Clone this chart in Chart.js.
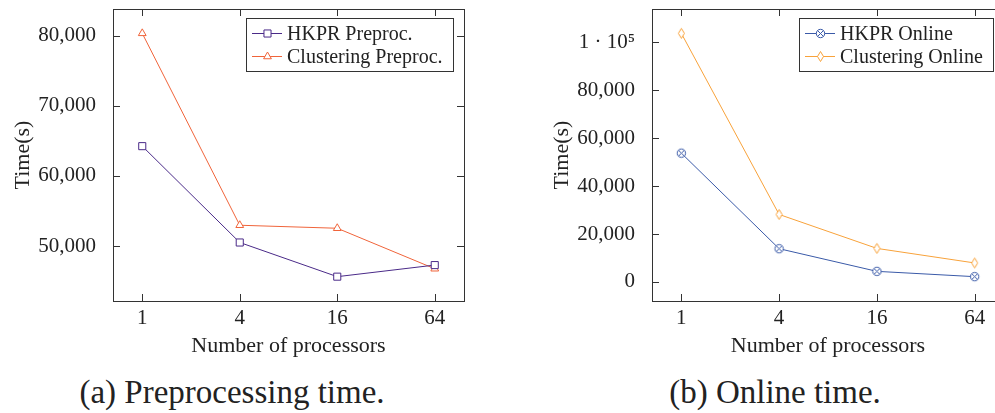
<!DOCTYPE html>
<html lang="en">
<head>
<meta charset="UTF-8">
<title>Preprocessing and online time</title>
<script src="https://cdn.jsdelivr.net/npm/chart.js"></script>
<style>
  html, body { margin: 0; padding: 0; background: #fff; overflow: hidden; }
  body { width: 995px; height: 413px; position: relative; }
  canvas { position: absolute; top: 0; }
  #graficoA { left: 0; }
  #graficoB { left: 520px; }
  .legenda {
    position: absolute; top: 374px;
    font-family: "Liberation Serif", serif; font-size: 33px; line-height: 36px;
    color: #222; white-space: nowrap; transform: translateX(-50%);
  }
</style>
</head>
<body>
<canvas id="graficoA" width="480" height="360"></canvas>
<canvas id="graficoB" width="500" height="360"></canvas>
<div class="legenda" style="left:232px">(a) Preprocessing time.</div>
<div class="legenda" style="left:775px">(b) Online time.</div>
<script>
// dados
const processadores = [1, 4, 16, 64];
const hkprPreproc = [64250, 50520, 45650, 47300];
const clusterPreproc = [80330, 52980, 52550, 46780];
const hkprOnline = [53750, 13870, 4420, 2200];
const clusterOnline = [103750, 28170, 14000, 7920];

const ticksPreproc = [50000, 60000, 70000, 80000];
const rotulosPreproc = ['50,000', '60,000', '70,000', '80,000'];
const ticksOnline = [0, 20000, 40000, 60000, 80000, 100000];
const rotulosOnline = ['0', '20,000', '40,000', '60,000', '80,000', '1 \u00b7 10\u2075'];

const corTexto = '#222';
const corMoldura = '#333';

Chart.defaults.font.family = "'Liberation Serif', serif";
Chart.defaults.color = corTexto;

// limites com 10% de folga (como o pgfplots)
function limites(series) {
    let todos = [].concat(...series);
    let lo = Math.min(...todos), hi = Math.max(...todos);
    let d = (hi - lo) * 0.1;
    return [lo - d, hi + d];
}

// marcadores que o Chart.js não tem
function marcador(cor, tipo) {
    let c = document.createElement('canvas');
    c.width = 13; c.height = 13;
    let g = c.getContext('2d');
    g.strokeStyle = cor;
    g.lineWidth = 1;
    g.fillStyle = '#fff';
    if (tipo == 'otimes') {
        g.beginPath();
        g.arc(6.5, 6.5, 4.2, 0, Math.PI * 2);
        g.fill();
        g.stroke();
        g.beginPath();
        g.moveTo(3.5, 3.5); g.lineTo(9.5, 9.5);
        g.moveTo(9.5, 3.5); g.lineTo(3.5, 9.5);
        g.stroke();
    } else {
        g.beginPath();
        g.moveTo(6.5, 1.5); g.lineTo(9.5, 6.5); g.lineTo(6.5, 11.5); g.lineTo(3.5, 6.5);
        g.closePath();
        g.fill();
        g.stroke();
    }
    return c;
}

function serie(rotulo, valores, cor, estilo, raio) {
    return {
        label: rotulo,
        data: valores.map((v, i) => ({ x: Math.log2(processadores[i]), y: v })),
        borderColor: cor,
        backgroundColor: '#fff',
        borderWidth: 1,
        pointStyle: estilo,
        pointRadius: raio,
        pointBorderWidth: 1,
        pointBorderColor: cor,
        pointBackgroundColor: '#fff',
        tension: 0
    };
}

// moldura, ticks internos e legenda dentro da área
const moldura = {
    id: 'moldura',
    afterDraw(chart) {
        const ctx = chart.ctx;
        const a = chart.chartArea;
        const x = chart.scales.x, y = chart.scales.y;
        ctx.save();
        ctx.strokeStyle = corMoldura;
        ctx.lineWidth = 1;
        ctx.beginPath();
        x.ticks.forEach((t, i) => {
            let px = Math.round(x.getPixelForTick(i)) + 0.5;
            ctx.moveTo(px, a.bottom); ctx.lineTo(px, a.bottom - 7);
            ctx.moveTo(px, a.top); ctx.lineTo(px, a.top + 7);
        });
        y.ticks.forEach((t, i) => {
            let py = Math.round(y.getPixelForTick(i)) + 0.5;
            ctx.moveTo(a.left, py); ctx.lineTo(a.left + 7, py);
            ctx.moveTo(a.right, py); ctx.lineTo(a.right - 7, py);
        });
        ctx.stroke();
        ctx.strokeRect(Math.round(a.left) + 0.5, Math.round(a.top) + 0.5,
            Math.round(a.right - a.left), Math.round(a.bottom - a.top));

        // legenda
        ctx.font = "20px 'Liberation Serif', serif";
        let larg = 0;
        chart.data.datasets.forEach(d => { larg = Math.max(larg, ctx.measureText(d.label).width); });
        let w = Math.round(41 + larg + 10), h = 53;
        let bx = Math.round(a.right - 11 - w), by = Math.round(a.top + 9);
        ctx.fillStyle = '#fff';
        ctx.fillRect(bx, by, w, h);
        ctx.strokeStyle = corMoldura;
        ctx.strokeRect(bx + 0.5, by + 0.5, w, h);
        chart.data.datasets.forEach((d, i) => {
            let ly = Math.round(by + 15 + i * 23) + 0.5;
            ctx.strokeStyle = d.borderColor;
            ctx.beginPath();
            ctx.moveTo(bx + 6, ly); ctx.lineTo(bx + 36, ly);
            ctx.stroke();
            ctx.fillStyle = '#fff';
            Chart.helpers.drawPoint(ctx, {
                pointStyle: d.pointStyle, radius: d.pointRadius, borderWidth: 1, rotation: 0
            }, bx + 21.5, ly);
            ctx.fillStyle = corTexto;
            ctx.textBaseline = 'middle';
            ctx.textAlign = 'left';
            ctx.fillText(d.label, bx + 41, ly + 1);
        });
        ctx.restore();
    }
};

function criarGrafico(id, datasets, ticksY, rotulosY, larguraY, tituloYPad) {
    let [ymin, ymax] = limites(datasets.map(d => d.data.map(p => p.y)));
    return new Chart(document.getElementById(id), {
        type: 'line',
        data: { datasets: datasets },
        options: {
            responsive: false,
            animation: false,
            events: [],
            layout: { padding: { top: 9, right: 16, left: 0, bottom: 0 } },
            plugins: { legend: { display: false }, tooltip: { enabled: false } },
            scales: {
                x: {
                    type: 'linear',
                    min: -0.6,
                    max: 6.6,
                    grid: { display: false },
                    border: { display: false },
                    afterBuildTicks: s => { s.ticks = processadores.map(p => ({ value: Math.log2(p) })); },
                    afterFit: s => { s.height = 59; s.paddingLeft = 0; s.paddingRight = 0; },
                    ticks: {
                        font: { size: 21 },
                        padding: -3,
                        maxRotation: 0,
                        callback: (v, i) => String(processadores[i])
                    },
                    title: {
                        display: true,
                        text: 'Number of processors',
                        font: { size: 22 },
                        padding: { top: 0, bottom: 1 }
                    }
                },
                y: {
                    type: 'linear',
                    min: ymin,
                    max: ymax,
                    grid: { display: false },
                    border: { display: false },
                    afterBuildTicks: s => { s.ticks = ticksY.map(v => ({ value: v })); },
                    afterFit: s => { s.width = larguraY; s.paddingTop = 0; s.paddingBottom = 0; },
                    ticks: {
                        font: { size: 21 },
                        padding: 9,
                        callback: (v, i) => rotulosY[i]
                    },
                    title: {
                        display: true,
                        text: 'Time(s)',
                        font: { size: 22 },
                        padding: { top: tituloYPad, bottom: 0 }
                    }
                }
            }
        },
        plugins: [moldura]
    });
}

criarGrafico('graficoA', [
    serie('HKPR Preproc.', hkprPreproc, '#4a2a88', 'rect', 5),
    serie('Clustering Preproc.', clusterPreproc, '#f0643a', 'triangle', 4.5)
], ticksPreproc, rotulosPreproc, 113, 10);

criarGrafico('graficoB', [
    serie('HKPR Online', hkprOnline, '#3a5aa8', marcador('#3a5aa8', 'otimes'), 4.5),
    serie('Clustering Online', clusterOnline, '#f8a23a', marcador('#f8a23a', 'diamond'), 4.5)
], ticksOnline, rotulosOnline, 132, 29);
</script>
</body>
</html>
